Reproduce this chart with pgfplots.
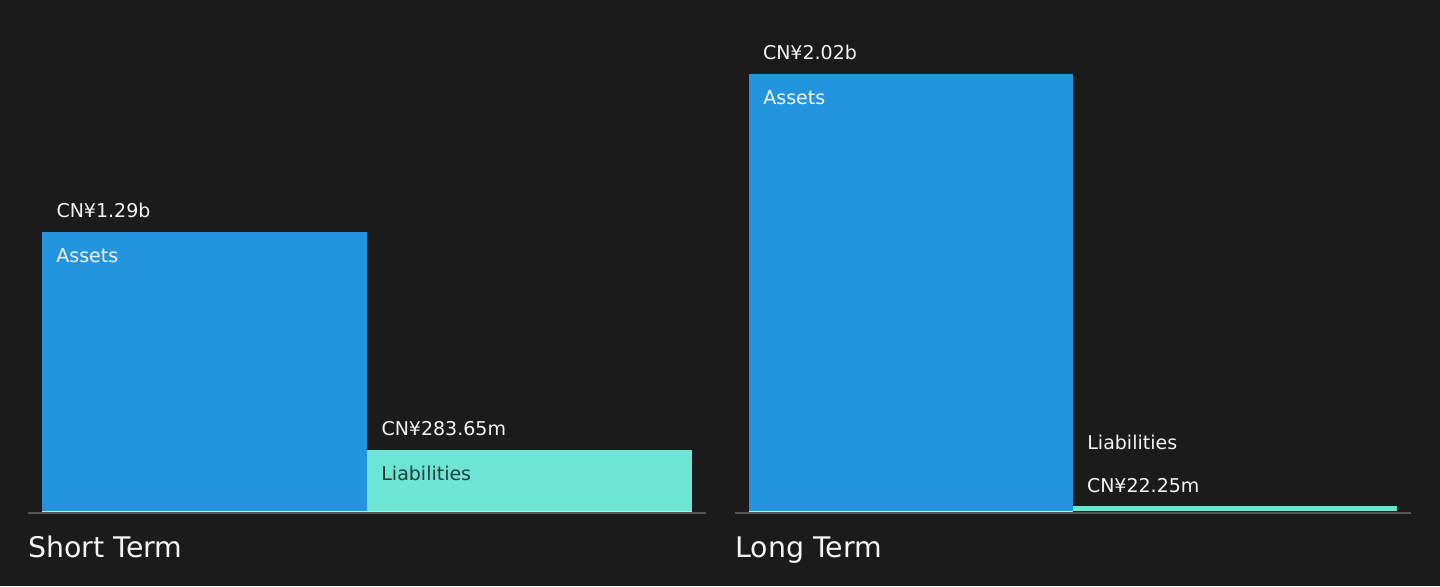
\documentclass[border=0pt]{standalone}
\usepackage{pgfplots}
\pgfplotsset{compat=1.18}
\usepackage{fontspec}
\setmainfont{DejaVu Sans}

\definecolor{bgc}{HTML}{1B1B1B}
\definecolor{assetc}{HTML}{2394DF}
\definecolor{liabc}{HTML}{6CE5D4}
\definecolor{basec}{HTML}{555555}
\definecolor{txtc}{HTML}{F5F5F5}
\definecolor{darktxt}{HTML}{213B3B}

% 1 px of the reference = 0.5pt
\pgfplotsset{
  bsbar/.style={
    scale only axis,
    axis lines=none,
    ticks=none,
    clip=false,
    height=218.75pt,
    xmin=0, xmax=2,
    ymin=0, ymax=2.02,
    anchor=origin,
    every axis plot/.append style={ybar, bar width=1, bar shift=0pt, draw=none},
    nodes near coords style={font=\fontsize{9.5}{11}\selectfont, text=txtc,
      anchor=base west, inner sep=0pt, xshift=-74.2pt, yshift=6.9pt},
  },
}
\newcommand{\lbl}{\fontsize{9.5}{11}\selectfont}

\begin{document}
\begin{tikzpicture}
\fill[bgc] (0,0) rectangle (720pt,293pt);

% ---- short term
\begin{axis}[bsbar, width=325pt, at={(21pt,37.5pt)}]
  \addplot[fill=assetc, nodes near coords={CN¥1.29b}] coordinates {(0.5,1.29)};
  \addplot[fill=liabc, nodes near coords={CN¥283.65m}] coordinates {(1.5,0.28365)};
  \draw[white!88!black, line width=0.6pt] (axis cs:0,0) ++(0,-0.3pt) -- ([yshift=-0.3pt]axis cs:2,0);
  \draw[basec, line width=1pt] ([xshift=-7pt,yshift=-1.2pt]axis cs:0,0) -- ([xshift=7pt,yshift=-1.2pt]axis cs:2,0);
  \node[anchor=base west, inner sep=0pt, text=txtc, font=\lbl] at ([xshift=7pt,yshift=-15.5pt]axis cs:0,1.29) {Assets};
  \node[anchor=base west, inner sep=0pt, text=darktxt, font=\lbl] at ([xshift=7pt,yshift=-15.5pt]axis cs:1,0.28365) {Liabilities};
\end{axis}

% ---- long term
\begin{axis}[bsbar, width=324pt, at={(374.5pt,37.5pt)}]
  \addplot[fill=assetc, nodes near coords={CN¥2.02b}] coordinates {(0.5,2.02)};
  \addplot[fill=liabc, nodes near coords={CN¥22.25m}] coordinates {(1.5,0.02225)};
  \draw[white!88!black, line width=0.6pt] (axis cs:0,0) ++(0,-0.3pt) -- ([yshift=-0.3pt]axis cs:1,0);
  \draw[basec, line width=1pt] ([xshift=-7pt,yshift=-1.2pt]axis cs:0,0) -- ([xshift=7pt,yshift=-1.2pt]axis cs:2,0);
  \node[anchor=base west, inner sep=0pt, text=txtc, font=\lbl] at ([xshift=7pt,yshift=-15.5pt]axis cs:0,2.02) {Assets};
  \node[anchor=base west, inner sep=0pt, text=txtc, font=\lbl] at ([xshift=7pt,yshift=28.2pt]axis cs:1,0.02225) {Liabilities};
\end{axis}

\node[anchor=base west, inner sep=0pt, text=txtc, font=\fontsize{14.2}{16}\selectfont] at (14pt,14.2pt) {Short Term};
\node[anchor=base west, inner sep=0pt, text=txtc, font=\fontsize{14.2}{16}\selectfont] at (367.5pt,14.2pt) {Long Term};
\end{tikzpicture}
\end{document}
